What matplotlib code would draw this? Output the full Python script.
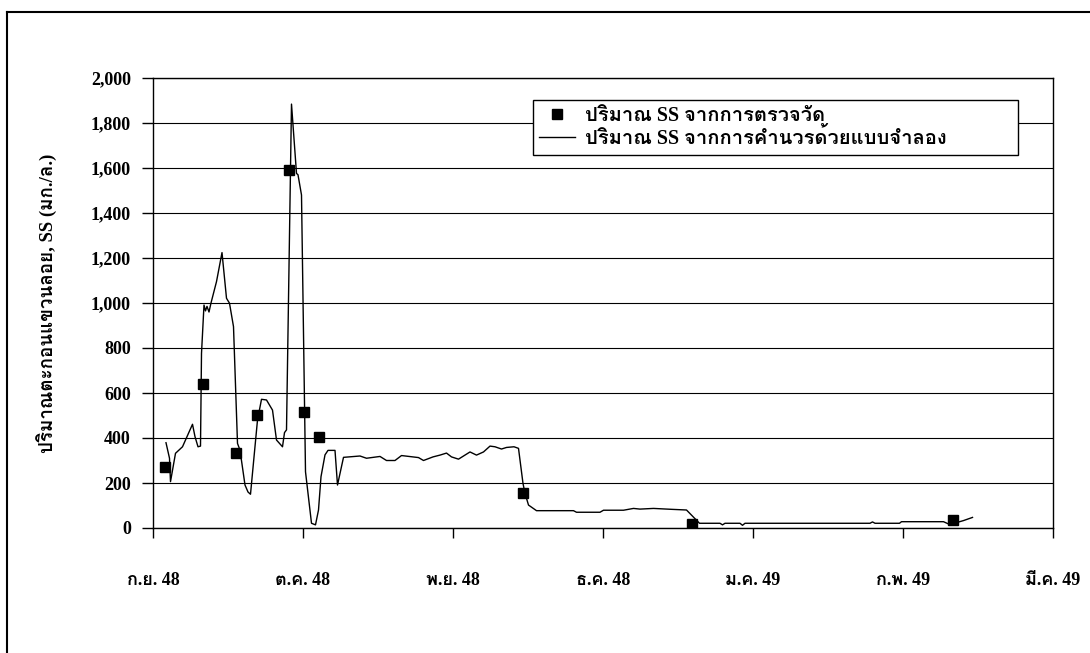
import matplotlib
matplotlib.use("Agg")
import matplotlib.pyplot as plt
from matplotlib import font_manager
from matplotlib.ft2font import FT2Font
from matplotlib.lines import Line2D
from matplotlib.ticker import FuncFormatter

# days counted from 1 Sep 2005 (ticks every 30 days, as in the original sheet)
tick_days = [0, 30, 60, 90, 120, 150, 180]
tick_labels = ["ก.ย. 48", "ต.ค. 48", "พ.ย. 48", "ธ.ค. 48", "ม.ค. 49", "ก.พ. 49", "มี.ค. 49"]

obs_day = [2.4, 9.9, 16.6, 20.8, 27.2, 30.1, 33.1, 73.9, 107.7, 160.0]
obs_ss = [272, 638, 335, 502, 1591, 517, 406, 157, 16, 36]

model_day = [2.6, 3.3, 3.5, 4.5, 5.9, 7.9, 8.4, 9.0, 9.5, 9.7, 10.2, 10.5, 10.8,
             11.2, 11.6, 12.7, 13.8, 14.7, 15.3, 16.1, 16.9, 17.4, 18.4, 19.0,
             19.5, 20.9, 21.7, 22.7, 23.9, 24.7, 25.9, 26.3, 26.7, 27.7, 28.7,
             29.0, 29.7, 30.5, 31.7, 32.5, 33.1, 33.6, 34.4, 35.0, 36.4, 36.9,
             38.1, 41.4, 42.7, 45.4, 46.7, 48.4, 49.7, 53.1, 54.1, 56.0, 57.4,
             58.7, 59.7, 61.1, 63.4, 64.7, 66.1, 67.4, 68.4, 69.7, 70.7, 72.2,
             73.1, 74.0, 74.4, 75.1, 76.7, 84.1, 84.7, 89.4, 90.1, 94.1, 96.1,
             97.4, 100.1, 103.7, 106.7, 109.3, 113.4, 113.9, 114.4, 117.4, 117.9,
             118.4, 143.4, 143.9, 144.4, 149.3, 149.7, 158.1, 159.1, 160.7, 162.1,
             163.9]
model_ss = [379, 310, 206, 332, 361, 461, 406, 361, 364, 776, 991, 965, 985,
            960, 1000, 1095, 1224, 1021, 999, 895, 376, 346, 191, 160,
            150, 480, 572, 569, 524, 391, 361, 424, 436, 1884, 1576,
            1570, 1480, 250, 21, 14, 80, 228, 325, 345, 345, 191,
            314, 320, 310, 318, 300, 300, 322, 313, 300, 316, 324,
            333, 316, 306, 338, 324, 338, 364, 361, 351, 358, 361,
            354, 198, 154, 102, 77, 77, 70, 70, 79, 79, 87,
            84, 87, 83, 80, 21, 21, 14, 21, 21, 12,
            21, 21, 27, 21, 21, 28, 28, 18, 24, 33,
            47]


def find_thai_font():
    for f in font_manager.fontManager.ttflist:
        if "CJK" in f.name:
            continue
        try:
            if 0x0E01 in FT2Font(f.fname).get_charmap():
                return f.name
        except Exception:
            pass
    return None


thai = find_thai_font()
families = ["Liberation Serif"] + ([thai] if thai else []) + ["DejaVu Sans"]
plt.rcParams["font.family"] = families
plt.rcParams["font.weight"] = "bold"

fig = plt.figure(figsize=(10.9, 6.53), dpi=100)
ax = fig.add_axes([153 / 1090, 125 / 653, 900 / 1090, 450 / 653])

ax.plot(model_day, model_ss, color="black", linewidth=1.0,
        label="ปริมาณ SS จากการคำนวรด้วยแบบจำลอง", zorder=3)
ax.plot(obs_day, obs_ss, linestyle="none", marker="s", markersize=6.5,
        color="black", label="ปริมาณ SS จากการตรวจวัด", zorder=4)

ax.set_xlim(0, 180)
ax.set_ylim(0, 2000)
ax.set_yticks(range(0, 2001, 200))
ax.yaxis.set_major_formatter(FuncFormatter(lambda v, p: f"{int(v):,}"))
ax.set_xticks(tick_days)
ax.set_xticklabels(tick_labels)
ax.grid(axis="y", color="black", linewidth=0.8)
ax.set_axisbelow(True)
for s in ax.spines.values():
    s.set_linewidth(1.0)
ax.tick_params(axis="y", direction="out", length=8, width=1.0, pad=8, labelsize=13)
ax.tick_params(axis="x", direction="out", length=7, width=1.0, pad=25, labelsize=13)
ax.set_ylabel("ปริมาณตะกอนแขวนลอย, SS (มก./ล.)", fontsize=13.5, fontweight="bold", labelpad=24)

handles, labels = ax.get_legend_handles_labels()
leg = ax.legend(handles[::-1], labels[::-1], loc="upper left",
                bbox_to_anchor=(0.422, 0.829, 0.539, 0.122), mode="expand",
                fontsize=14.5, frameon=True, fancybox=False, edgecolor="black",
                framealpha=1, handlelength=1.8, handletextpad=0.5,
                borderpad=0.3, labelspacing=0.1, borderaxespad=0)
leg.get_frame().set_linewidth(1.0)

# outer chart border (top and left only, as in the original)
fig.add_artist(Line2D([7 / 1090, 1], [1 - 12 / 653, 1 - 12 / 653], color="black", linewidth=1.5))
fig.add_artist(Line2D([7 / 1090, 7 / 1090], [0, 1 - 12 / 653], color="black", linewidth=1.5))

fig.savefig("out.png", dpi=100)
